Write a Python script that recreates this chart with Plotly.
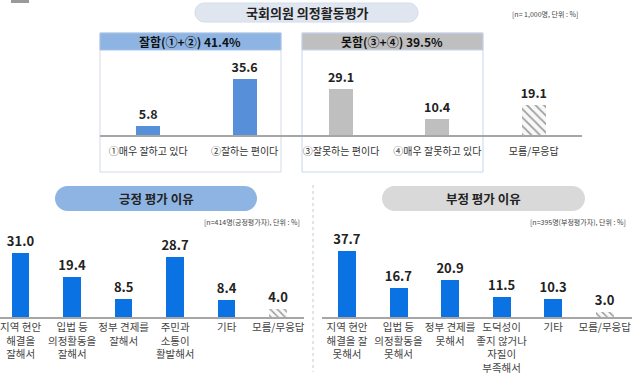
import plotly.graph_objects as go

W, H = 640, 377
FONT = "Noto Sans CJK KR"

# ---------------- data ----------------
top_cats = ["①매우 잘하고 있다", "②잘하는 편이다", "③잘못하는 편이다", "④매우 잘못하고 있다", "모름/무응답"]
top_vals = [5.8, 35.6, 29.1, 10.4, 19.1]

pos_cats = ["지역 현안<br>해결을<br>잘해서", "입법 등<br>의정활동을<br>잘해서", "정부 견제를<br>잘해서",
            "주민과<br>소통이<br>활발해서", "기타", "모름/무응답"]
pos_vals = [31.0, 19.4, 8.5, 28.7, 8.4, 4.0]

neg_cats = ["지역 현안<br>해결을 잘<br>못해서", "입법 등<br>의정활동을<br>못해서", "정부 견제를<br>못해서",
            "도덕성이<br>좋지 않거나<br>자질이<br>부족해서", "기타", "모름/무응답"]
neg_vals = [37.7, 16.7, 20.9, 11.5, 10.3, 3.0]

title_main = "국회의원 의정활동평가"
note_main = "[n= 1,000명, 단위 : %]"
hdr_good = "잘함(①+②) 41.4%"
hdr_bad = "못함(③+④) 39.5%"
title_pos = "긍정 평가 이유"
title_neg = "부정 평가 이유"
note_pos = "[n=414명(긍정평가자), 단위 : %]"
note_neg = "[n=395명(부정평가자), 단위 : %]"


def px(x):
    return x / W


def py(y):
    return 1 - y / H


def pill(x0, y0, x1, y1):
    r = (y1 - y0) / 2
    k = 0.5523 * r
    pts = [
        f"M {px(x0 + r)},{py(y0)}",
        f"L {px(x1 - r)},{py(y0)}",
        f"C {px(x1 - r + k)},{py(y0)} {px(x1)},{py(y0 + r - k)} {px(x1)},{py(y0 + r)}",
        f"C {px(x1)},{py(y0 + r + k)} {px(x1 - r + k)},{py(y1)} {px(x1 - r)},{py(y1)}",
        f"L {px(x0 + r)},{py(y1)}",
        f"C {px(x0 + r - k)},{py(y1)} {px(x0)},{py(y1 - r + k)} {px(x0)},{py(y1 - r)}",
        f"C {px(x0)},{py(y0 + r - k)} {px(x0 + r - k)},{py(y0)} {px(x0 + r)},{py(y0)}",
        "Z",
    ]
    return " ".join(pts)


fig = go.Figure()

hatch_fg = "#dedede"
hatch_bg = "#f8f8f8"

# top chart
top_colors = ["#5790d8", "#5790d8", "#bfbfbf", "#bfbfbf", hatch_bg]
top_shapes = ["", "", "", "", "\\"]
fig.add_trace(go.Bar(
    x=top_cats, y=top_vals, xaxis="x", yaxis="y", width=0.25,
    marker=dict(color=top_colors, line=dict(width=0),
                pattern=dict(shape=top_shapes, fgcolor=hatch_fg, size=6, solidity=0.3, fillmode="overlay")),
    text=[f"{v:.1f}" for v in top_vals], textposition="outside", cliponaxis=False, constraintext="none",
    textfont=dict(family=FONT, size=12.5, color="#222"), texttemplate="<b>%{text}</b>",
    hoverinfo="skip", showlegend=False,
))

bar_blue = "#0a72e2"
pos_colors = [bar_blue] * 5 + [hatch_bg]
neg_colors = [bar_blue] * 5 + [hatch_bg]
pat = [""] * 5 + ["\\"]

fig.add_trace(go.Bar(
    x=pos_cats, y=pos_vals, xaxis="x2", yaxis="y2", width=0.34,
    marker=dict(color=pos_colors, line=dict(width=0),
                pattern=dict(shape=pat, fgcolor=hatch_fg, size=5, solidity=0.3, fillmode="overlay")),
    text=[f"{v:.1f}" for v in pos_vals], textposition="outside", cliponaxis=False, constraintext="none",
    textfont=dict(family=FONT, size=13, color="#222"), texttemplate="<b>%{text}</b>",
    hoverinfo="skip", showlegend=False,
))
fig.add_trace(go.Bar(
    x=neg_cats, y=neg_vals, xaxis="x3", yaxis="y3", width=0.35,
    marker=dict(color=neg_colors, line=dict(width=0),
                pattern=dict(shape=pat, fgcolor=hatch_fg, size=5, solidity=0.3, fillmode="overlay")),
    text=[f"{v:.1f}" for v in neg_vals], textposition="outside", cliponaxis=False, constraintext="none",
    textfont=dict(family=FONT, size=13, color="#222"), texttemplate="<b>%{text}</b>",
    hoverinfo="skip", showlegend=False,
))

axis_common = dict(showgrid=False, zeroline=False, ticks="", showline=True, tickangle=0,
                   linecolor="#a6a6a6", linewidth=1.5, fixedrange=True)
yaxis_common = dict(showgrid=False, zeroline=False, showticklabels=False, showline=False, fixedrange=True)

shapes = []
# top boxes
shapes.append(dict(type="rect", xref="paper", yref="paper", x0=px(100), x1=px(281), y0=py(172), y1=py(33),
                   line=dict(color="#d3dae4", width=1), fillcolor="rgba(0,0,0,0)", layer="below"))
shapes.append(dict(type="rect", xref="paper", yref="paper", x0=px(302), x1=px(483), y0=py(172), y1=py(33),
                   line=dict(color="#c8d5f0", width=1), fillcolor="rgba(0,0,0,0)", layer="below"))
shapes.append(dict(type="rect", xref="paper", yref="paper", x0=px(100), x1=px(281), y0=py(50), y1=py(33),
                   line=dict(color="#a9c3e6", width=1), fillcolor="#8eb4e3", layer="below"))
shapes.append(dict(type="rect", xref="paper", yref="paper", x0=px(302), x1=px(483), y0=py(50), y1=py(33),
                   line=dict(color="#c8d5f0", width=1), fillcolor="#bfbfbf", layer="below"))
# pills
shapes.append(dict(type="path", xref="paper", yref="paper", path=pill(195, 3, 418, 22),
                   line=dict(color="#d3dce8", width=1), fillcolor="#dfe6f0", layer="below"))
shapes.append(dict(type="path", xref="paper", yref="paper", path=pill(55, 186, 257, 211),
                   line=dict(width=0), fillcolor="#8eb4e3", layer="below"))
shapes.append(dict(type="path", xref="paper", yref="paper", path=pill(382, 186, 585, 211),
                   line=dict(width=0), fillcolor="#d9d9d9", layer="below"))
# separator
shapes.append(dict(type="line", xref="paper", yref="paper", x0=px(313), x1=px(313), y0=py(185), y1=py(372),
                   line=dict(color="#c8c8c8", width=1, dash="dot")))
# small gray mark top-left
shapes.append(dict(type="rect", xref="paper", yref="paper", x0=px(11), x1=px(29), y0=py(3), y1=py(0),
                   line=dict(width=0), fillcolor="#9a9a9a"))

annotations = [
    dict(text=f"<b>{title_main}</b>", x=px(307), y=py(12.5), font=dict(family=FONT, size=13, color="#222")),
    dict(text=note_main, x=px(580), y=py(13.5), xanchor="right", font=dict(family=FONT, size=7, color="#444")),
    dict(text=f"<b>{hdr_good}</b>", x=px(190), y=py(41.5), font=dict(family=FONT, size=12, color="#111")),
    dict(text=f"<b>{hdr_bad}</b>", x=px(392), y=py(41.5), font=dict(family=FONT, size=12, color="#111")),
    dict(text=f"<b>{title_pos}</b>", x=px(156), y=py(198.5), font=dict(family=FONT, size=12.5, color="#222")),
    dict(text=f"<b>{title_neg}</b>", x=px(483), y=py(198.5), font=dict(family=FONT, size=12.5, color="#222")),
    dict(text=note_pos, x=px(302), y=py(222), xanchor="right", font=dict(family=FONT, size=7, color="#444")),
    dict(text=note_neg, x=px(628), y=py(222), xanchor="right", font=dict(family=FONT, size=7, color="#444")),
]
for a in annotations:
    a.update(xref="paper", yref="paper", showarrow=False)
    a.setdefault("xanchor", "center")
    a.setdefault("yanchor", "middle")

fig.update_layout(
    width=W, height=H, margin=dict(l=0, r=0, t=0, b=0),
    paper_bgcolor="white", plot_bgcolor="rgba(0,0,0,0)",
    font=dict(family=FONT), hovermode=False,
    xaxis=dict(domain=[px(100), px(582)], range=[-0.5, 4.5], anchor="y",
               tickfont=dict(family=FONT, size=10, color="#333"), ticklabelstandoff=6, **axis_common),
    yaxis=dict(domain=[py(135), py(60)], range=[0, 75 / 1.57], anchor="x", **yaxis_common),
    xaxis2=dict(domain=[px(0), px(304)], range=[-0.4, 5.5], anchor="y2",
                tickfont=dict(family=FONT, size=10.5, color="#444"), ticklabelstandoff=0, **axis_common),
    yaxis2=dict(domain=[py(317), py(237)], range=[0, 80 / 2.08], anchor="x2", **yaxis_common),
    xaxis3=dict(domain=[px(322), px(632)], range=[-0.485, 5.53], anchor="y3",
                tickfont=dict(family=FONT, size=10.5, color="#444"), ticklabelstandoff=0, **axis_common),
    yaxis3=dict(domain=[py(317), py(237)], range=[0, 80 / 1.76], anchor="x3", **yaxis_common),
    shapes=shapes, annotations=annotations, bargap=0,
)

fig.write_html("out.html", config={"displayModeBar": False, "staticPlot": True},
               post_script="document.body.style.margin='0';document.body.style.overflow='hidden';")
